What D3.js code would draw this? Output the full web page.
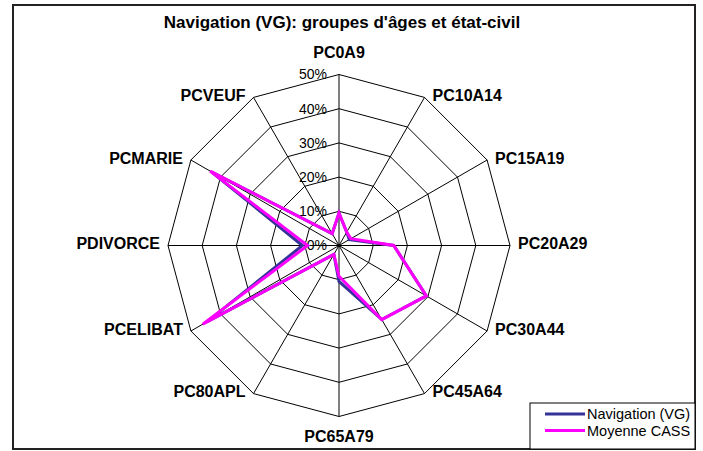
<!DOCTYPE html>
<html><head><meta charset="utf-8">
<script src="https://cdn.jsdelivr.net/npm/d3@7"></script>
<style>
html,body{margin:0;padding:0;background:#fff;}
svg{display:block;font-family:Arial,"Liberation Sans",sans-serif;}
</style></head>
<body><svg id="c" width="703" height="451"></svg>
<script>
const title = "Navigation (VG): groupes d'âges et état-civil";
const categories = ["PC0A9","PC10A14","PC15A19","PC20A29","PC30A44","PC45A64","PC65A79","PC80APL","PCELIBAT","PDIVORCE","PCMARIE","PCVEUF"];
const navigationVG = [0.095,0.045,0.035,0.16,0.295,0.25,0.105,0.03,0.445,0.107,0.43,0.04];
const moyenneCASS  = [0.095,0.045,0.04,0.16,0.295,0.25,0.09,0.03,0.46,0.092,0.435,0.04];
const tickValues = [0,0.1,0.2,0.3,0.4,0.5];
const tickLabels = ["0%","10%","20%","30%","40%","50%"];
const seriesNames = ["Navigation (VG)","Moyenne CASS"];
const seriesColors = ["#333399","#ff00ff"];

const svg = d3.select("#c");
const cx = 339, cy = 245.5, R = 171;
const r = d3.scaleLinear().domain([0,0.5]).range([0,R]);
const ang = d3.scaleLinear().domain([0,categories.length]).range([0,2*Math.PI]);

// frame
svg.append("rect").attr("x",13).attr("y",5).attr("width",682).attr("height",444)
  .attr("fill","#fff").attr("stroke","#222").attr("stroke-width",2);

// title
svg.append("text").attr("x",342).attr("y",28).attr("text-anchor","middle")
  .attr("font-weight","bold").attr("font-size",17).text(title);

const g = svg.append("g").attr("transform",`translate(${cx},${cy})`);

// grid rings
const ring = d3.lineRadial().angle((d,i)=>ang(i)).radius(d=>r(d)).curve(d3.curveLinearClosed);
tickValues.filter(v=>v>0).forEach(v=>{
  g.append("path").attr("d",ring(categories.map(()=>v))).attr("fill","none")
   .attr("stroke","#000").attr("stroke-width",1);
});
// spokes
categories.forEach((c,i)=>{
  const a = ang(i);
  g.append("line").attr("x1",0).attr("y1",0)
   .attr("x2",r(0.5)*Math.sin(a)).attr("y2",-r(0.5)*Math.cos(a))
   .attr("stroke","#000").attr("stroke-width",1);
});

// tick labels
tickValues.forEach((v,i)=>{
  g.append("text").attr("x",-12).attr("y",-r(v)).attr("dy","0.35em")
   .attr("text-anchor","end").attr("font-size",14).text(tickLabels[i]);
});

// series
const line = d3.lineRadial().angle((d,i)=>ang(i)).radius(d=>r(d)).curve(d3.curveLinearClosed);
[navigationVG, moyenneCASS].forEach((s,k)=>{
  g.append("path").attr("d",line(s)).attr("fill","none")
   .attr("stroke",seriesColors[k]).attr("stroke-width",3).attr("stroke-linejoin","miter");
});

// category labels
categories.forEach((c,i)=>{
  const a = ang(i), s = Math.sin(a), co = Math.cos(a);
  const vx = r(0.5)*s, vy = -r(0.5)*co;
  let x = vx, y = vy, anchor = "middle";
  if (s > 0.1) { x = vx + 8; y = vy - 2; anchor = "start"; }
  else if (s < -0.1) { x = vx - 8; y = vy - 2; anchor = "end"; }
  else if (co > 0) { y = vy - 22; }
  else { y = vy + 20; }
  g.append("text").attr("x",x).attr("y",y).attr("dy","0.35em")
   .attr("text-anchor",anchor).attr("font-weight","bold").attr("font-size",16).text(c);
});

// legend
const lg = svg.append("g");
lg.append("rect").attr("x",530).attr("y",403).attr("width",165).attr("height",46)
  .attr("fill","#fff").attr("stroke","#000").attr("stroke-width",1);
seriesNames.forEach((n,k)=>{
  const y = 414 + k*16.5;
  lg.append("line").attr("x1",545).attr("x2",585).attr("y1",y).attr("y2",y)
    .attr("stroke",seriesColors[k]).attr("stroke-width",3);
  lg.append("text").attr("x",587).attr("y",y).attr("dy","0.35em")
    .attr("font-size",14.5).text(n);
});
</script></body></html>
